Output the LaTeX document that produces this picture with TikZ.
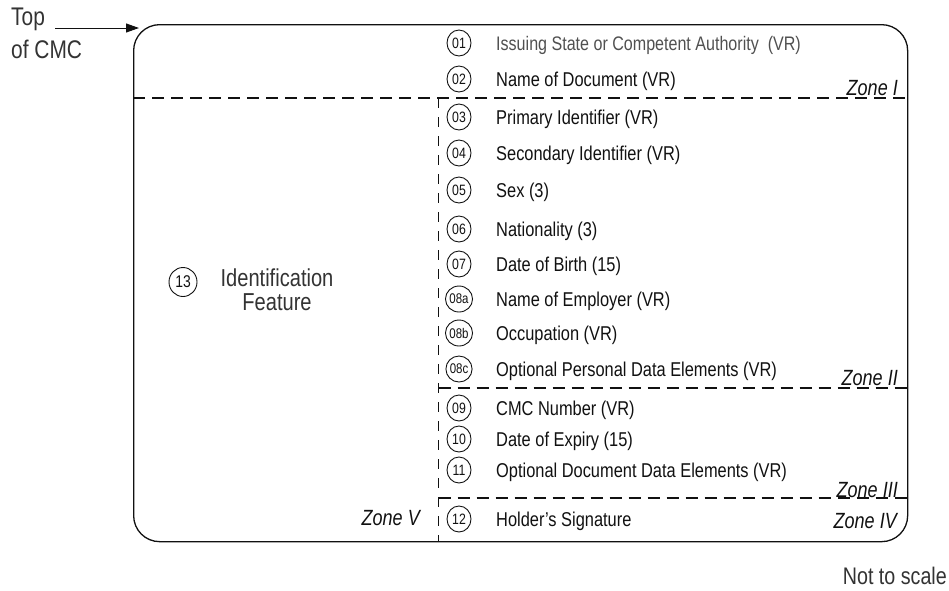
\documentclass[tikz,border=0pt]{standalone}
\usepackage{fontspec}
\setmainfont{Liberation Sans}[FakeStretch=0.82]
\usetikzlibrary{arrows.meta,shapes.geometric}
\definecolor{ink}{HTML}{111111}
\definecolor{soft}{HTML}{505050}
\definecolor{lab}{HTML}{333333}
\begin{document}
\begin{tikzpicture}[x=1pt,y=-1pt,
  num/.style={draw=ink, line width=0.9pt, ellipse, minimum width=24pt, minimum height=26pt, inner sep=0pt, font=\fontsize{15}{15}\selectfont, text=ink},
  item/.style={anchor=base west, inner sep=0pt, font=\fontsize{20}{20}\selectfont, text=ink},
  zone/.style={anchor=base east, inner sep=0pt, font=\fontsize{22}{22}\selectfont\itshape, text=ink},
  hdash/.style={draw=ink, line width=1.2pt, dash pattern=on 12pt off 7pt},
  vdash/.style={draw=ink, line width=1.2pt, dash pattern=on 10pt off 9pt},
  cardline/.style={draw=ink, line width=1.3pt, rounded corners=26pt}]
\useasboundingbox (0,0) rectangle (949,590);

% card
\node[cardline, minimum width=774pt, minimum height=517pt, inner sep=0pt, anchor=north west] (card) at (133,24) {};

% zone dividers
\coordinate (zIl) at (133,98);
\coordinate (zIr) at (907,98);
\coordinate (vtop) at (438.5,98);
\coordinate (vbot) at (438.5,541);
\coordinate (zIIl) at (438.5,388);
\coordinate (zIIr) at (907,388);
\coordinate (zIIIl) at (438.5,498);
\coordinate (zIIIr) at (907,498);
\draw[hdash] (zIl) -- (zIr);
\draw[vdash] (vtop) -- (vbot);
\draw[hdash] (zIIl) -- (zIIr);
\draw[hdash] (zIIIl) -- (zIIIr);

% items
\node[num] (n01) at (459,43) {01};
\node[item, text=soft, font=\fontsize{19.6}{20}\selectfont] (t01) at (496,50) {Issuing State or Competent Authority\ \ (VR)};
\node[num] (n02) at (459,79) {02};
\node[item] (t02) at (496,86) {Name of Document (VR)};
\node[num] (n03) at (459,117) {03};
\node[item] (t03) at (496,124) {Primary Identifier (VR)};
\node[num] (n04) at (459,153) {04};
\node[item] (t04) at (496,160) {Secondary Identifier (VR)};
\node[num] (n05) at (459,190) {05};
\node[item] (t05) at (496,197) {Sex (3)};
\node[num] (n06) at (459,229) {06};
\node[item] (t06) at (496,236) {Nationality (3)};
\node[num] (n07) at (459,264) {07};
\node[item] (t07) at (496,271) {Date of Birth (15)};
\node[num, font=\fontsize{14}{14}\selectfont] (n08a) at (459,299) {08a};
\node[item] (t08a) at (496,306) {Name of Employer (VR)};
\node[num, font=\fontsize{14}{14}\selectfont] (n08b) at (459,333) {08b};
\node[item] (t08b) at (496,340) {Occupation (VR)};
\node[num, font=\fontsize{14}{14}\selectfont] (n08c) at (459,369) {08c};
\node[item] (t08c) at (496,376) {Optional Personal Data Elements (VR)};
\node[num] (n09) at (459,408) {09};
\node[item] (t09) at (496,415) {CMC Number (VR)};
\node[num] (n10) at (459,439) {10};
\node[item] (t10) at (496,446) {Date of Expiry (15)};
\node[num] (n11) at (459,470) {11};
\node[item] (t11) at (496,477) {Optional Document Data Elements (VR)};
\node[num] (n12) at (459,519) {12};
\node[item] (t12) at (496,526) {Holder’s Signature};

% identification feature
\node[num, minimum width=28pt, minimum height=29pt, font=\fontsize{17}{17}\selectfont] (n13) at (183,282) {13};
\node[inner sep=0pt, align=center, text=lab, font=\fontsize{24.5}{24}\selectfont] (t13) at (277,290) {Identification\\Feature};

% zone labels
\node[zone] (zone1) at (898,95) {Zone I};
\node[zone] (zone2) at (898,385) {Zone II};
\node[zone] (zone3) at (898,497) {Zone III};
\node[zone] (zone4) at (897,528) {Zone IV};
\node[zone] (zone5) at (420,525) {Zone V};

% top of CMC
\node[anchor=north west, inner sep=0pt, align=left, text=lab, font=\fontsize{25.5}{33}\selectfont] (top) at (11,8) {Top\\of CMC};
\coordinate (arrS) at (55,28);
\coordinate (arrE) at (139,28);
\draw[draw=ink, line width=1pt, -{Triangle[length=13pt,width=9pt]}] (arrS) -- (arrE);

% not to scale
\node[anchor=base east, inner sep=0pt, text=lab, font=\fontsize{24}{24}\selectfont] (nts) at (947,584) {Not to scale};
\end{tikzpicture}
\end{document}
